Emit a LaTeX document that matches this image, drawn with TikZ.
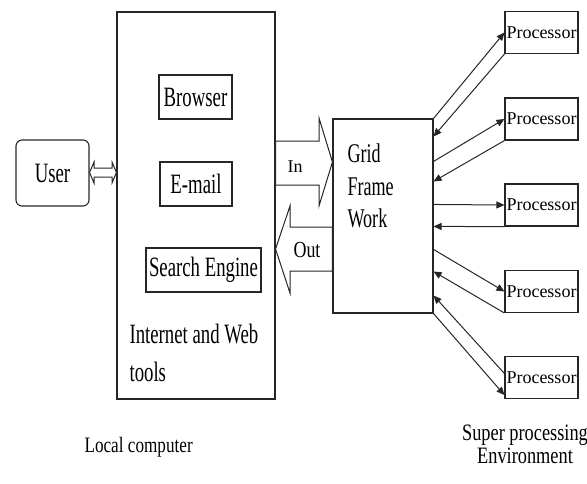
\documentclass[tikz,border=0pt]{standalone}
\usepackage{fontspec}
\setmainfont{Liberation Serif}
\newfontfamily\fbig[FakeStretch=0.67]{Liberation Serif}
\newfontfamily\fmid[FakeStretch=0.78]{Liberation Serif}
\usetikzlibrary{arrows.meta,calc}
\begin{document}
\begin{tikzpicture}[x=1pt,y=-1pt,line width=1.1pt,
  box/.style={draw=black!85,rectangle,inner sep=0pt},
  big/.style={font=\fbig\fontsize{28}{38}\selectfont},
  mid/.style={font=\fmid\fontsize{22}{23}\selectfont},
  small/.style={font=\fontsize{18}{20}\selectfont},
  lbl/.style={inner sep=0pt},
  proc/.style={box,small,minimum width=73pt,minimum height=42pt},
  arr/.style={draw=black!85,line width=1pt,-{Triangle[length=8pt,width=7pt]}},
  hollow/.style={draw=black!85,fill=white,line width=1pt,line join=miter}]
\useasboundingbox (0,0) rectangle (587,483);

% local computer
\node[box,minimum width=158pt,minimum height=387pt] (local) at (196,205.5) {};
\node[box,big,minimum width=73pt,minimum height=44pt] (browser) at (195.5,97) {Browser};
\node[box,big,minimum width=72pt,minimum height=44pt] (email) at (196,184) {E-mail};
\node[box,big,minimum width=115pt,minimum height=44pt] (search) at (203.5,270) {Search Engine};
\node[lbl,big,anchor=north west,align=left] (itools) at (129,324) {Internet and Web\\tools};
\node[lbl,mid,anchor=base west] (localtxt) at (84,452) {Local computer};

% user
\node[box,big,rounded corners=6pt,minimum width=73pt,minimum height=66pt] (user) at (52.5,173) {User};
\draw[hollow] (user.east |- 0,172.5) -- (94,162) -- (94,168) -- (112,168) -- (112,162)
  -- (local.west |- 0,172.5) -- (112,183) -- (112,177) -- (94,177) -- (94,183) -- cycle;

% grid
\node[box,minimum width=100pt,minimum height=194pt] (grid) at (383,216) {};
\node[lbl,font=\fbig\fontsize{27}{32.5}\selectfont,anchor=north west,align=left] (gridtxt) at (347,143.5) {Grid\\Frame\\Work};

% in / out
\draw[hollow] (local.east |- 0,141) -- (319,141) -- (319,118) -- (grid.west |- 0,162)
  -- (319,206) -- (319,185) -- (local.east |- 0,185) -- cycle;
\draw[hollow] (grid.west |- 0,227) -- (290,227) -- (290,206) -- (local.east |- 0,249)
  -- (290,293) -- (290,271) -- (grid.west |- 0,271) -- cycle;
\node[lbl,small,anchor=base west] (intxt) at (287,172) {In};
\node[lbl,font=\fmid\fontsize{23}{24}\selectfont,anchor=base west] (outtxt) at (293,257) {Out};

% processors
\node[proc] (p1) at (541.5,32.5) {Processor};
\node[proc] (p2) at (541.5,119) {Processor};
\node[proc] (p3) at (541.5,205) {Processor};
\node[proc] (p4) at (541.5,291.5) {Processor};
\node[proc] (p5) at (541.5,377.5) {Processor};

\draw[arr] (grid.north east) -- (p1.west);
\draw[arr] (p1.south west) -- ($(grid.north east)+(0,18)$);
\draw[arr] ($(grid.north east)+(0,43)$) -- (p2.west);
\draw[arr] (p2.south west) -- ($(grid.north east)+(0,63)$);
\draw[arr] ($(grid.north east)+(0,86)$) -- (p3.west);
\draw[arr] (p3.south west) -- ($(grid.north east)+(0,108)$);
\draw[arr] ($(grid.north east)+(0,131)$) -- (p4.west);
\draw[arr] (p4.south west) -- ($(grid.north east)+(0,153)$);
\draw[arr] (grid.south east) -- ($(p5.south west)+(0,-4)$);
\draw[arr] ($(p5.west)+(0,-4)$) -- ($(grid.south east)+(0,-18)$);

\node[lbl,font=\fmid\fontsize{23.5}{23}\selectfont,align=center,anchor=north] (super) at (525,424) {Super processing\\Environment};
\end{tikzpicture}
\end{document}
